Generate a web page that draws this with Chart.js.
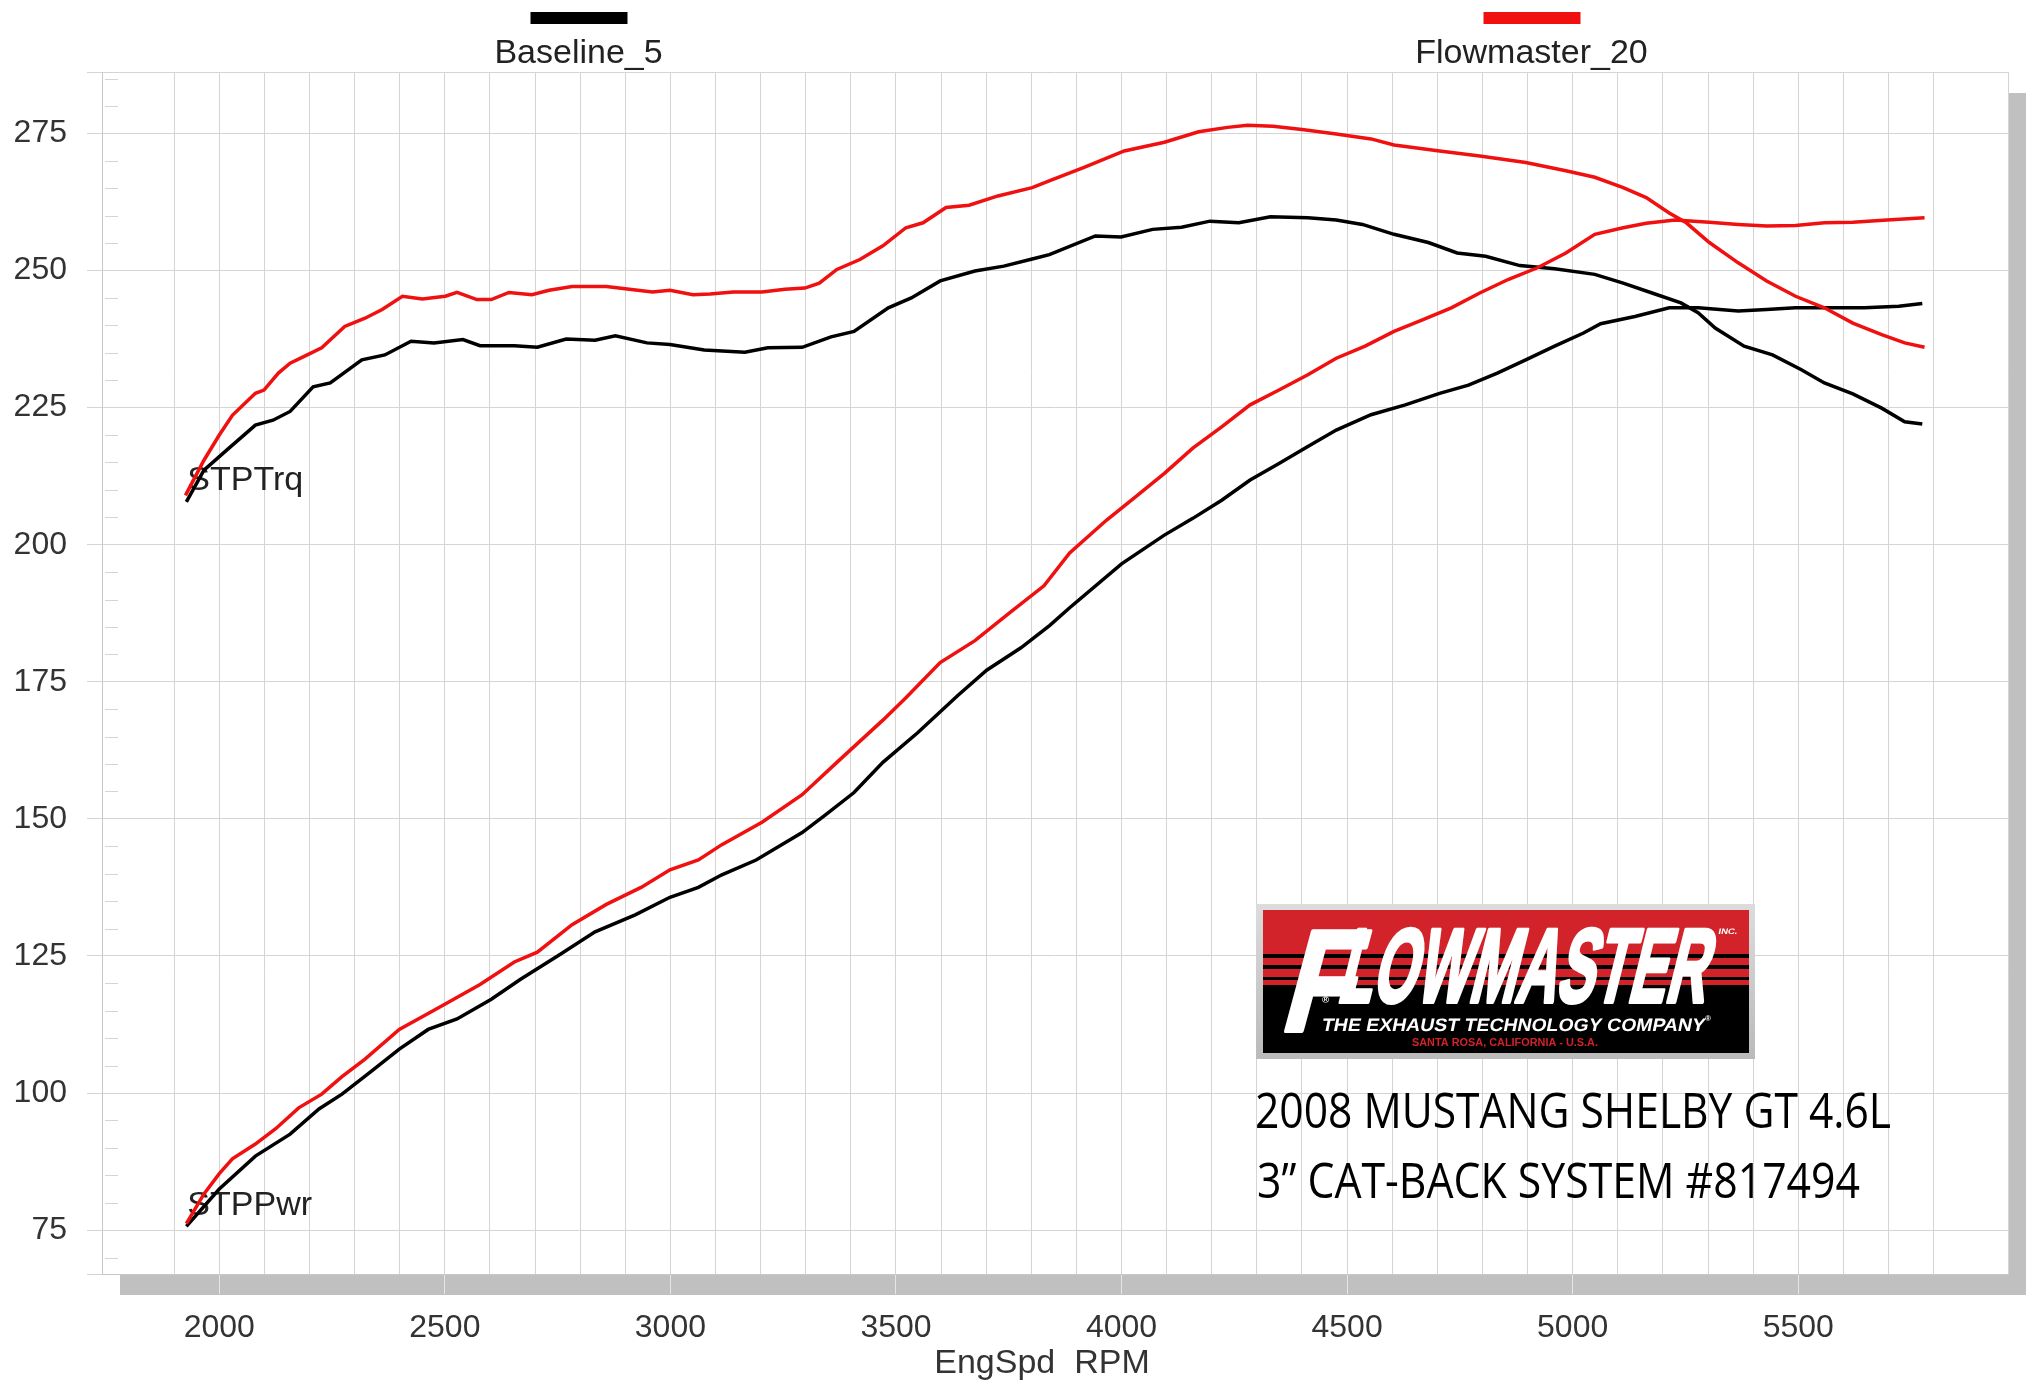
<!DOCTYPE html>
<html>
<head>
<meta charset="utf-8">
<title>2008 Mustang Shelby GT 4.6L dyno</title>
<script src="https://cdn.jsdelivr.net/npm/chart.js@4.4.1/dist/chart.umd.min.js"></script>
<style>
    html, body { margin: 0; padding: 0; background: #fff; }
    canvas { display: block; }
</style>
</head>
<body>
<canvas id="dynoChart" width="2028" height="1385"></canvas>
<script>
// Dyno readings taken off the sheet (rpm / value pairs per curve)
const baseTrqRpm = [1927, 1966, 2017, 2080, 2119, 2157, 2208, 2246, 2316, 2367, 2425, 2476, 2540, 2578, 2654, 2705, 2769, 2833, 2878, 2948, 2999, 3075, 3165, 3216, 3292, 3356, 3407, 3483, 3534, 3598, 3675, 3739, 3802, 3840, 3942, 3999, 4069, 4133, 4196, 4260, 4330, 4413, 4476, 4534, 4604, 4680, 4744, 4807, 4883, 4960, 5049, 5112, 5176, 5240, 5278, 5316, 5380, 5443, 5507, 5558, 5621, 5685, 5736, 5775];
const baseTrq = [207.8, 213.6, 217.3, 221.8, 222.7, 224.3, 228.8, 229.5, 233.7, 234.6, 237.1, 236.8, 237.4, 236.3, 236.3, 236, 237.5, 237.3, 238.1, 236.8, 236.5, 235.5, 235.1, 235.9, 236, 237.9, 238.9, 243.2, 245, 248.1, 249.9, 250.8, 252.1, 252.9, 256.3, 256.1, 257.5, 257.9, 259, 258.7, 259.8, 259.6, 259.2, 258.4, 256.6, 255.1, 253.2, 252.6, 250.9, 250.3, 249.3, 247.7, 245.9, 244.1, 242.3, 239.5, 236.2, 234.6, 231.9, 229.5, 227.5, 224.9, 222.4, 222];

const flowTrqRpm = [1925, 1966, 2000, 2029, 2080, 2099, 2131, 2157, 2195, 2227, 2278, 2323, 2361, 2406, 2450, 2501, 2527, 2571, 2603, 2642, 2693, 2731, 2782, 2858, 2909, 2960, 2999, 3050, 3088, 3139, 3203, 3254, 3298, 3330, 3369, 3420, 3471, 3522, 3560, 3611, 3662, 3726, 3802, 3841, 3917, 4006, 4095, 4171, 4235, 4279, 4336, 4400, 4476, 4553, 4604, 4705, 4794, 4896, 4985, 5049, 5112, 5163, 5214, 5252, 5303, 5367, 5430, 5494, 5558, 5621, 5685, 5736, 5780];
const flowTrq = [209, 215.4, 220, 223.6, 227.6, 228.2, 231.3, 233.1, 234.6, 235.9, 239.8, 241.3, 242.9, 245.3, 244.8, 245.3, 246, 244.7, 244.7, 246, 245.6, 246.4, 247.1, 247.1, 246.6, 246.1, 246.4, 245.6, 245.7, 246.1, 246.1, 246.6, 246.8, 247.7, 250.2, 252, 254.5, 257.8, 258.7, 261.5, 261.9, 263.6, 265.1, 266.4, 268.8, 271.8, 273.4, 275.3, 276.1, 276.5, 276.3, 275.7, 274.9, 274, 272.9, 271.8, 270.9, 269.7, 268.2, 267, 265.1, 263.3, 260.5, 258.7, 255.1, 251.4, 248.1, 245.3, 243.2, 240.4, 238.3, 236.8, 236];

const basePwrRpm = [1927, 2000, 2080, 2157, 2221, 2272, 2336, 2399, 2463, 2527, 2603, 2667, 2756, 2833, 2922, 2999, 3062, 3114, 3190, 3292, 3343, 3407, 3471, 3548, 3637, 3701, 3777, 3841, 3885, 4000, 4094, 4158, 4222, 4285, 4349, 4413, 4476, 4553, 4629, 4705, 4769, 4833, 4896, 4960, 5024, 5062, 5138, 5214, 5278, 5367, 5430, 5494, 5558, 5647, 5723, 5775];
const basePwr = [75.7, 82.5, 88.5, 92.5, 97.1, 99.8, 103.9, 108, 111.6, 113.5, 117.1, 120.7, 125.3, 129.4, 132.5, 135.7, 137.5, 139.8, 142.5, 147.5, 150.7, 154.8, 160.3, 165.7, 172.5, 177.1, 181.2, 185.3, 188.5, 196.5, 201.7, 204.8, 208.1, 211.8, 214.8, 217.9, 220.9, 223.7, 225.5, 227.6, 229.1, 231.3, 233.7, 236.2, 238.6, 240.3, 241.6, 243.2, 243.2, 242.6, 242.9, 243.2, 243.2, 243.2, 243.5, 244];

const flowPwrRpm = [1927, 1966, 2000, 2029, 2080, 2125, 2176, 2227, 2272, 2323, 2399, 2489, 2578, 2654, 2705, 2782, 2858, 2935, 2999, 3062, 3114, 3203, 3292, 3369, 3471, 3522, 3598, 3675, 3751, 3828, 3885, 3967, 4031, 4095, 4158, 4222, 4285, 4349, 4413, 4476, 4540, 4604, 4667, 4731, 4794, 4858, 4922, 4985, 5049, 5112, 5163, 5227, 5303, 5367, 5430, 5494, 5558, 5621, 5697, 5780];
const flowPwr = [76.2, 81.6, 85.3, 88, 90.7, 93.5, 97.3, 99.8, 103, 106.2, 111.6, 115.7, 119.8, 123.9, 125.7, 130.7, 134.4, 137.5, 140.7, 142.5, 145.3, 149.4, 154.4, 160.3, 168, 172.1, 178.5, 182.5, 187.5, 192.5, 198.5, 204.5, 208.7, 213, 217.6, 221.5, 225.5, 228.2, 231, 234, 236.2, 238.9, 241, 243.2, 245.9, 248.4, 250.5, 253.2, 256.6, 257.8, 258.6, 259.2, 258.8, 258.4, 258.1, 258.2, 258.7, 258.8, 259.2, 259.6];

const runNames = ['Baseline_5', 'Flowmaster_20'];
const runColors = ['#000000', '#f01010'];
const curveNames = ['STPTrq', 'STPPwr'];
const xTitle = 'EngSpd  RPM';
const noteLines = ['2008 MUSTANG SHELBY GT 4.6L', '3\u201D CAT-BACK SYSTEM #817494'];

const SANS = '"Liberation Sans", Arial, sans-serif';

function pts(xs, ys) {
    return xs.map((x, i) => ({ x: x, y: ys[i] }));
}

// draws text squeezed/stretched to a given width, optional slant and fake-bold stroke
function fitText(ctx, text, x, y, width, skew, stroke) {
    const w = ctx.measureText(text).width;
    ctx.save();
    ctx.setTransform(width / w, 0, -(skew || 0), 1, x, y);
    if (stroke) {
        ctx.lineWidth = stroke;
        ctx.lineJoin = 'round';
        ctx.strokeStyle = ctx.fillStyle;
        ctx.strokeText(text, 0, 0);
    }
    ctx.fillText(text, 0, 0);
    ctx.restore();
}

function drawLogo(ctx, x, y) {
    const w = 499, h = 155;
    const g = ctx.createLinearGradient(x, y, x, y + h);
    g.addColorStop(0, '#dcdcdc');
    g.addColorStop(1, '#bababa');
    ctx.fillStyle = g;
    ctx.fillRect(x, y, w, h);

    const ix = x + 7, iw = w - 13;
    ctx.fillStyle = '#000';
    ctx.fillRect(ix, y + 6, iw, h - 12);
    ctx.fillStyle = '#d2232a';
    ctx.fillRect(ix, y + 6, iw, 75);
    ctx.fillStyle = '#000';
    ctx.fillRect(ix, y + 50, iw, 4);
    ctx.fillRect(ix, y + 61, iw, 4);
    ctx.fillRect(ix, y + 73, iw, 3);

    ctx.fillStyle = '#fff';
    ctx.textAlign = 'left';
    ctx.textBaseline = 'alphabetic';
    ctx.font = 'bold 145px ' + SANS;
    fitText(ctx, 'F', x + 22, y + 127, 70, 0.27, 4);
    ctx.font = 'bold 105px ' + SANS;
    fitText(ctx, 'LOWMASTER', x + 80, y + 98, 368, 0.25, 4);
    ctx.font = 'bold 18px ' + SANS;
    fitText(ctx, 'THE EXHAUST TECHNOLOGY COMPANY', x + 65, y + 127, 383, 0.2);
    ctx.font = 'bold 8px ' + SANS;
    fitText(ctx, 'INC.', x + 462, y + 30, 19, 0.2);
    fitText(ctx, '\u00AE', x + 449, y + 117, 6, 0);
    ctx.font = 'bold 9px ' + SANS;
    fitText(ctx, '\u00AE', x + 66, y + 99, 7, 0);
    ctx.fillStyle = '#d2232a';
    ctx.font = 'bold 10px ' + SANS;
    fitText(ctx, 'SANTA ROSA, CALIFORNIA - U.S.A.', x + 156, y + 142, 186, 0);
}

const sheetPlugin = {
    id: 'sheet',
    beforeDraw(chart) {
        const { ctx, chartArea: a } = chart;
        ctx.save();
        ctx.fillStyle = '#ffffff';
        ctx.fillRect(0, 0, chart.width, chart.height);
        // drop shadow of the plot frame
        ctx.fillStyle = '#c0c0c0';
        ctx.fillRect(a.left + 18, a.top + 21, a.right - a.left, a.bottom - a.top);
        ctx.fillStyle = '#ffffff';
        ctx.fillRect(a.left, a.top, a.right - a.left, a.bottom - a.top);
        ctx.restore();
    },
    beforeDatasetsDraw(chart) {
        const { ctx, chartArea: a, scales } = chart;
        ctx.save();
        // minor ticks every 5 on the left edge
        ctx.strokeStyle = '#d4d4d4';
        ctx.lineWidth = 1;
        for (let v = 70; v < scales.y.max; v += 5) {
            if (v % 25 === 0) continue;
            const py = Math.round(scales.y.getPixelForValue(v)) + 0.5;
            ctx.beginPath();
            ctx.moveTo(a.left + 3, py);
            ctx.lineTo(a.left + 16, py);
            ctx.stroke();
        }
        // curve names at the start of the baseline curves
        ctx.fillStyle = '#222';
        ctx.font = '34px ' + SANS;
        ctx.textAlign = 'left';
        ctx.textBaseline = 'middle';
        [[2, curveNames[0]], [3, curveNames[1]]].forEach(([idx, name]) => {
            const p = chart.getDatasetMeta(idx).data[0];
            ctx.fillText(name, p.x + 1, p.y - 21);
        });
        ctx.restore();
    },
    afterDraw(chart) {
        const { ctx, chartArea: a } = chart;
        const w = a.right - a.left;
        ctx.save();
        // legend, one run per quarter of the width
        ctx.font = '34px ' + SANS;
        ctx.textAlign = 'center';
        ctx.textBaseline = 'middle';
        runNames.forEach((name, i) => {
            const cx = a.left + w * (0.25 + 0.5 * i);
            ctx.fillStyle = runColors[i];
            ctx.fillRect(cx - 48, 12, 97, 12);
            ctx.fillStyle = '#222';
            ctx.fillText(name, cx, 54);
        });

        // axis title
        ctx.fillStyle = '#333';
        ctx.font = '34px ' + SANS;
        ctx.fillText(xTitle, 1042, 1364);

        drawLogo(ctx, 1256, 904);

        ctx.fillStyle = '#000';
        ctx.textAlign = 'left';
        ctx.textBaseline = 'alphabetic';
        ctx.font = '49px "Open Sans", sans-serif';
        fitText(ctx, noteLines[0], 1255, 1128, 636, 0);
        fitText(ctx, noteLines[1], 1257, 1198, 603, 0);
        ctx.restore();
    }
};

document.addEventListener('DOMContentLoaded', function () {
    const line = (data, color) => ({
        data: data,
        borderColor: color,
        backgroundColor: color,
        borderWidth: 3.5,
        pointRadius: 0,
        tension: 0,
        fill: false
    });

    new Chart(document.getElementById('dynoChart'), {
        type: 'line',
        data: {
            datasets: [
                line(pts(flowTrqRpm, flowTrq), runColors[1]),
                line(pts(flowPwrRpm, flowPwr), runColors[1]),
                line(pts(baseTrqRpm, baseTrq), runColors[0]),
                line(pts(basePwrRpm, basePwr), runColors[0])
            ]
        },
        options: {
            responsive: false,
            animation: false,
            devicePixelRatio: 1,
            layout: { padding: { top: 72, right: 20, left: 0, bottom: 0 } },
            plugins: {
                legend: { display: false },
                tooltip: { enabled: false }
            },
            scales: {
                x: {
                    type: 'linear',
                    min: 1740,
                    max: 5965,
                    afterFit: s => { s.height = 111; },
                    border: { color: '#c8c8c8' },
                    grid: {
                        color: '#d4d4d4',
                        tickLength: 20,
                        tickColor: c => (c.tick && c.tick.value % 500 === 0) ? '#e6e6e6' : 'rgba(0,0,0,0)'
                    },
                    ticks: {
                        stepSize: 100,
                        autoSkip: false,
                        maxRotation: 0,
                        padding: 15,
                        color: '#333',
                        font: { family: SANS, size: 32 },
                        callback: v => (v % 500 === 0 ? String(v) : '')
                    }
                },
                y: {
                    type: 'linear',
                    min: 67,
                    max: 286.2,
                    afterFit: s => { s.width = 102; },
                    border: { color: '#c8c8c8' },
                    grid: { color: '#d4d4d4', tickLength: 15, tickColor: '#d4d4d4' },
                    ticks: {
                        stepSize: 25,
                        padding: 20,
                        color: '#333',
                        font: { family: SANS, size: 32 },
                        callback: v => (v % 25 === 0 ? String(v) : '')
                    }
                }
            }
        },
        plugins: [sheetPlugin]
    });
});
</script>
</body>
</html>
